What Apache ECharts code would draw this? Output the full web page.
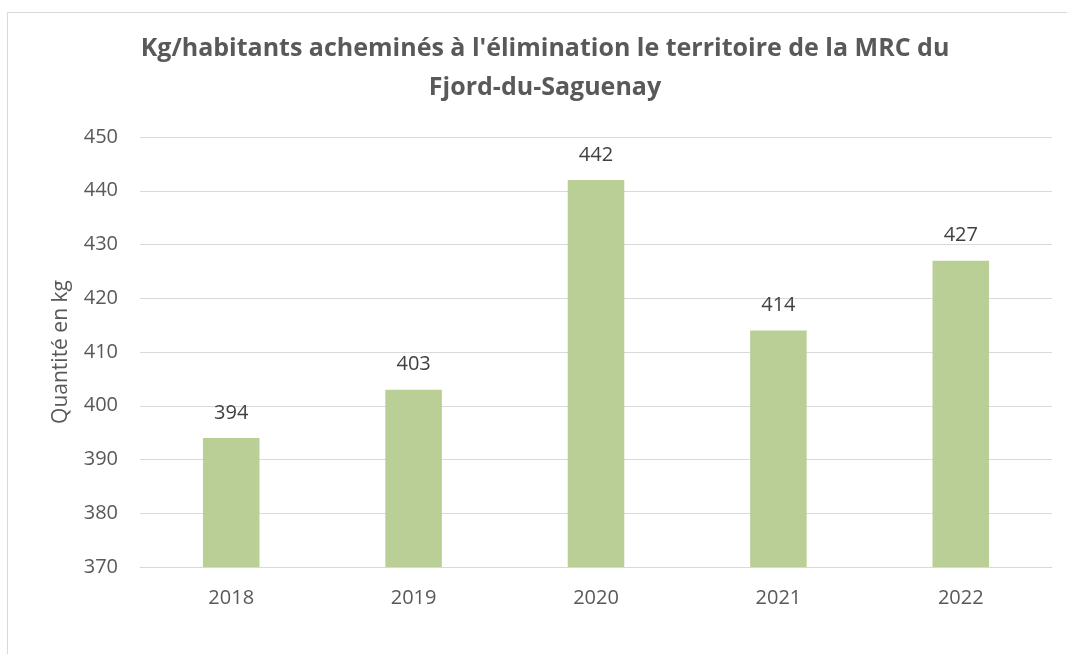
<!DOCTYPE html>
<html><head><meta charset="utf-8">
<script src="https://cdn.jsdelivr.net/npm/echarts@6/dist/echarts.min.js"></script>
<style>html,body{margin:0;padding:0;background:#fff}#c{width:1067px;height:654px}</style>
</head><body><div id="c"></div>
<script>
const categories = ['2018','2019','2020','2021','2022'];
const values = [394, 403, 442, 414, 427];
const yTicks = {min: 370, max: 450, interval: 10};
const titleText = "Kg/habitants acheminés à l'élimination le territoire de la MRC du\nFjord-du-Saguenay";
const yName = 'Quantité en kg';

const chart = echarts.init(document.getElementById('c'), null, {renderer: 'canvas'});
chart.setOption({
  animation: false,
  graphic: [{type: 'rect', shape: {x: 7.5, y: 12.5, width: 1100, height: 700}, style: {fill: 'none', stroke: '#d9d9d9', lineWidth: 1}, silent: true}],
  title: {text: titleText, left: 540, textAlign: 'center', top: 24,
    textStyle: {fontFamily: 'Open Sans', fontWeight: 'bold', fontSize: 25, color: '#595959', lineHeight: 39}},
  grid: {left: 140, right: 15, top: 137, bottom: 87},
  xAxis: {type: 'category', data: categories,
    axisLine: {lineStyle: {color: '#d9d9d9', width: 1}}, axisTick: {show: false},
    axisLabel: {fontFamily: 'Open Sans', fontSize: 20, color: '#595959', margin: 21}},
  yAxis: {type: 'value', min: yTicks.min, max: yTicks.max, interval: yTicks.interval,
    name: yName, nameLocation: 'middle', nameGap: 68,
    nameTextStyle: {fontFamily: 'Open Sans', fontSize: 21, color: '#595959'},
    axisLine: {show: false}, axisTick: {show: false},
    splitLine: {lineStyle: {color: '#d9d9d9', width: 1}},
    axisLabel: {fontFamily: 'Open Sans', fontSize: 20, color: '#595959', margin: 22}},
  series: [{type: 'bar', data: values, barWidth: '31%',
    itemStyle: {color: '#b9cf96'},
    label: {show: true, position: 'top', distance: 15, fontFamily: 'Open Sans', fontSize: 20, color: '#404040'}}]
});
</script></body></html>
